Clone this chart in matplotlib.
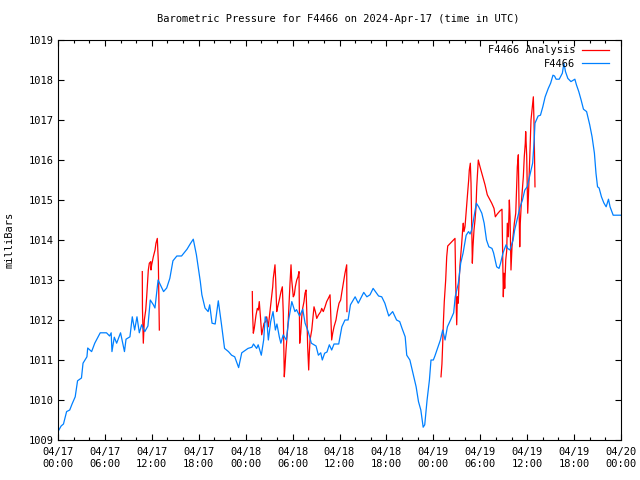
import numpy as np
import matplotlib
matplotlib.use("Agg")
import matplotlib.pyplot as plt
from matplotlib.ticker import MultipleLocator

# hours since 2024-04-17 00:00 UTC
station_hours = [
    0.0, 0.4, 0.7, 1.1, 1.5, 1.8, 2.2, 2.5, 3.0, 3.2, 3.7, 3.8, 4.3, 4.7, 5.4,
    6.2, 6.6, 6.8, 6.9, 7.2, 7.5, 8.0, 8.5, 8.7, 9.2, 9.5, 9.8, 10.1, 10.4, 10.7,
    11.1, 11.5, 11.8, 12.2, 12.4, 12.8, 13.5, 13.9, 14.3, 14.7, 15.2, 15.8, 16.5,
    16.9, 17.3, 17.7, 18.2, 18.4, 18.8, 19.2, 19.4, 19.7, 20.1, 20.5, 20.9, 21.3,
    21.8, 22.2, 22.6, 23.1, 23.5, 24.3, 24.8, 25.0, 25.4, 25.6, 26.0, 26.3, 26.5,
    26.7, 26.9, 27.2, 27.5, 27.8, 28.0, 28.3, 28.5, 28.8, 29.2, 29.5, 29.9, 30.3,
    30.5, 30.9, 31.3, 31.6, 32.0, 32.4, 33.0, 33.3, 33.6, 33.8, 34.1, 34.4, 34.7,
    35.0, 35.3, 35.9, 36.3, 36.7, 37.1, 37.4, 38.0, 38.4, 39.1, 39.5, 39.9, 40.3,
    41.0, 41.4, 41.8, 42.3, 42.8, 43.3, 43.7, 44.0, 44.4, 44.6, 45.0, 45.4, 45.8,
    46.1, 46.4, 46.7, 46.9, 47.2, 47.5, 47.7, 48.0, 48.2, 48.6, 48.9, 49.2, 49.5,
    49.8, 50.2, 50.6, 50.8, 51.2, 51.5, 51.8, 52.2, 52.5, 52.7, 52.9, 53.1, 53.5,
    53.8, 54.2, 54.5, 54.8, 55.1, 55.5, 55.7, 55.9, 56.1, 56.4, 56.6, 56.9, 57.3,
    57.5, 57.8, 58.2, 58.4, 58.8, 59.1, 59.4, 59.7, 60.0, 60.4, 60.7, 60.9, 61.0,
    61.4, 61.7, 62.0, 62.3, 62.7, 63.0, 63.3, 63.5, 63.7, 64.1, 64.5, 64.7, 64.9,
    65.2, 65.6, 66.1, 66.3, 66.6, 66.9, 67.2, 67.6, 68.0, 68.3, 68.6, 68.8, 69.0,
    69.2, 69.5, 69.8, 70.1, 70.4, 70.6, 71.0, 72.0,
]
station_mbar = [
    1009.21, 1009.35, 1009.40, 1009.71, 1009.75, 1009.90, 1010.08, 1010.48, 1010.55,
    1010.92, 1011.08, 1011.30, 1011.21, 1011.42, 1011.68, 1011.68, 1011.60, 1011.68,
    1011.21, 1011.57, 1011.42, 1011.68, 1011.21, 1011.52, 1011.58, 1012.08, 1011.75,
    1012.08, 1011.68, 1011.88, 1011.71, 1011.85, 1012.50, 1012.38, 1012.30, 1013.00,
    1012.71, 1012.80, 1013.04, 1013.48, 1013.60, 1013.60, 1013.77, 1013.90, 1014.02,
    1013.63, 1012.96, 1012.63, 1012.30, 1012.21, 1012.38, 1011.92, 1011.90, 1012.48,
    1011.90, 1011.29, 1011.21, 1011.12, 1011.08, 1010.81, 1011.18, 1011.29, 1011.32,
    1011.40, 1011.29, 1011.38, 1011.12, 1011.50, 1012.08, 1012.00, 1011.50, 1011.96,
    1012.21, 1011.75, 1011.90, 1011.58, 1011.42, 1011.63, 1011.50, 1012.00, 1012.46,
    1012.21, 1012.26, 1012.10, 1012.27, 1011.92, 1011.71, 1011.42, 1011.35, 1011.12,
    1011.18, 1011.00, 1011.17, 1011.20, 1011.38, 1011.25, 1011.40, 1011.40, 1011.83,
    1012.00, 1012.00, 1012.38, 1012.58, 1012.42, 1012.69, 1012.58, 1012.63, 1012.79,
    1012.60, 1012.58, 1012.42, 1012.10, 1012.21, 1012.00, 1011.96, 1011.79, 1011.58,
    1011.12, 1011.00, 1010.67, 1010.33, 1009.96, 1009.75, 1009.32, 1009.38, 1010.00,
    1010.50, 1011.00, 1011.00, 1011.10, 1011.33, 1011.50, 1011.75, 1011.50, 1011.83,
    1012.00, 1012.18, 1012.58, 1012.92, 1013.42, 1013.67, 1014.12, 1014.21, 1014.15,
    1014.25, 1014.46, 1014.92, 1014.83, 1014.67, 1014.42, 1014.00, 1013.83, 1013.79,
    1013.68, 1013.50, 1013.33, 1013.29, 1013.42, 1013.67, 1013.88, 1013.79, 1013.75,
    1014.00, 1014.25, 1014.58, 1014.83, 1015.00, 1015.25, 1015.33, 1015.67, 1015.92,
    1016.50, 1016.92, 1017.10, 1017.12, 1017.33, 1017.58, 1017.79, 1017.92, 1018.12,
    1018.10, 1018.02, 1018.02, 1018.17, 1018.42, 1018.21, 1018.04, 1017.96, 1018.02,
    1017.88, 1017.71, 1017.50, 1017.27, 1017.21, 1016.88, 1016.58, 1016.17, 1015.67,
    1015.33, 1015.30, 1015.08, 1014.93, 1014.83, 1015.02, 1014.83, 1014.62, 1014.62,
]

# analysis values, None marks a gap in the record
analysis_hours = [
    10.78, 10.80, 10.91, 11.04, 11.22, 11.34, 11.55, 11.68, 11.86, 11.89, 11.98,
    12.19, 12.41, 12.53, 12.70, 12.83, 12.92, 12.96,
    None,
    24.85, 24.88, 24.98, 25.10, 25.32, 25.49, 25.62, 25.74, 25.92, 26.05, 26.18,
    26.35, 26.56, 26.69, 26.89, 27.11, 27.33, 27.46, 27.53, 27.66, 27.75, 27.84,
    27.97, 28.10, 28.30, 28.52, 28.69, 28.81, 28.90, 28.94, 29.03, 29.16, 29.33,
    29.45, 29.67, 29.80, 29.89, 30.09, 30.22, 30.35, 30.53, 30.69, 30.82, 30.86,
    30.91, 31.04, 31.17, 31.29, 31.46, 31.59, 31.72, 31.81, 31.93, 32.06, 32.14,
    32.23, 32.45, 32.57, 32.74, 32.91, 33.09, 33.29, 33.60, 33.72, 33.93, 34.15,
    34.36, 34.57, 34.79, 34.88, 35.00, 35.13, 35.30, 35.55, 35.72, 35.94, 36.15,
    36.28, 36.49, 36.70, 36.83, 36.92, 36.95,
    None,
    48.98, 49.10, 49.20, 49.28, 49.40, 49.58, 49.71, 49.84, 50.77, 50.86, 50.99,
    51.07, 51.19, 51.28, 51.41, 51.63, 51.76, 51.83, 51.92, 52.05, 52.18, 52.27,
    52.40, 52.52, 52.60, 52.73, 52.82, 52.91, 52.99, 53.07, 53.20, 53.33, 53.46,
    53.55, 53.67, 53.75, 53.97, 54.39, 54.61, 54.90, 55.25, 55.47, 55.76, 55.93,
    56.18, 56.53, 56.78, 56.87, 56.95, 57.04, 57.13, 57.26, 57.39, 57.46, 57.59,
    57.72, 57.81, 57.93, 58.06, 58.23, 58.36, 58.54, 58.67, 58.74, 58.87, 58.96,
    59.05, 59.12, 59.25, 59.38, 59.51, 59.63, 59.76, 59.81, 59.94, 60.07, 60.20,
    60.36, 60.49, 60.66, 60.79, 60.88, 61.00,
]
analysis_mbar = [
    1013.21, 1012.29, 1011.42, 1012.00, 1012.25, 1012.58, 1013.25, 1013.42, 1013.46,
    1013.25, 1013.38, 1013.58, 1013.75, 1013.92, 1014.04, 1013.46, 1012.33, 1011.75,
    None,
    1012.71, 1012.20, 1011.67, 1011.79, 1012.12, 1012.29, 1012.25, 1012.46, 1012.00,
    1011.63, 1011.75, 1011.92, 1011.96, 1012.08, 1011.83, 1012.21, 1012.58, 1012.83,
    1013.04, 1013.25, 1013.38, 1013.00, 1012.21, 1012.33, 1012.50, 1012.71, 1012.83,
    1012.17, 1011.17, 1010.58, 1010.83, 1011.25, 1011.67, 1012.00, 1012.92, 1013.38,
    1013.00, 1012.58, 1012.63, 1012.83, 1013.00, 1013.08, 1013.21, 1012.50, 1011.42,
    1011.67, 1012.08, 1012.29, 1012.46, 1012.67, 1012.75, 1012.25, 1011.33, 1010.75,
    1011.17, 1011.50, 1011.75, 1012.00, 1012.33, 1012.21, 1012.04, 1012.12, 1012.21,
    1012.29, 1012.21, 1012.33, 1012.46, 1012.54, 1012.63, 1012.17, 1011.50, 1011.67,
    1011.83, 1012.00, 1012.21, 1012.42, 1012.50, 1012.67, 1012.92, 1013.17, 1013.29,
    1013.38, 1012.21,
    None,
    1010.58, 1010.90, 1011.42, 1011.92, 1012.46, 1013.00, 1013.58, 1013.85, 1014.04,
    1012.92, 1011.88, 1012.58, 1012.42, 1012.92, 1013.38, 1013.92, 1014.29, 1014.42,
    1014.21, 1014.33, 1014.67, 1014.92, 1015.21, 1015.50, 1015.75, 1015.92, 1015.42,
    1014.42, 1013.42, 1013.83, 1014.25, 1014.50, 1014.83, 1015.33, 1015.75, 1016.00,
    1015.83, 1015.54, 1015.38, 1015.13, 1015.00, 1014.92, 1014.79, 1014.58, 1014.65,
    1014.73, 1014.77, 1013.58, 1012.58, 1013.17, 1012.79, 1013.50, 1013.75, 1014.42,
    1014.08, 1015.00, 1014.58, 1013.25, 1013.83, 1014.17, 1014.42, 1014.67, 1015.46,
    1015.83, 1016.13, 1014.83, 1013.83, 1014.42, 1014.92, 1015.25, 1015.58, 1016.08,
    1016.42, 1016.71, 1016.10, 1014.67, 1015.30, 1016.25, 1017.00, 1017.33, 1017.58,
    1016.90, 1015.33,
]

tick_hours = list(range(0, 73, 6))
tick_labels = ["04/17\n00:00", "04/17\n06:00", "04/17\n12:00", "04/17\n18:00",
               "04/18\n00:00", "04/18\n06:00", "04/18\n12:00", "04/18\n18:00",
               "04/19\n00:00", "04/19\n06:00", "04/19\n12:00", "04/19\n18:00",
               "04/20\n00:00"]
pressure_ticks = list(range(1009, 1020))

plt.rcParams['font.family'] = ['DejaVu Sans Mono']
plt.rcParams['font.size'] = 7.5

fig = plt.figure(figsize=(6.4, 4.8), dpi=100)
ax = fig.add_axes([58 / 640, 40 / 480, 563 / 640, 400 / 480])

ah = np.array(analysis_hours, dtype=float)
am = np.array(analysis_mbar, dtype=float)
ax.plot(ah, am, color='#ff0000', lw=0.9, label='F4466 Analysis')
ax.plot(station_hours, station_mbar, color='#0080ff', lw=0.9, label='F4466')

ax.set_xlim(0, 72)
ax.set_ylim(1009, 1019)
ax.set_xticks(tick_hours)
ax.set_xticklabels(tick_labels, linespacing=1.25)
ax.xaxis.set_minor_locator(MultipleLocator(2))
ax.set_yticks(pressure_ticks)
ax.set_yticklabels([str(p) for p in pressure_ticks])

ax.tick_params(which='both', direction='in', top=True, right=True, width=0.8)
ax.tick_params(which='major', length=4.5)
ax.tick_params(which='minor', length=2.5)
ax.tick_params(axis='x', pad=5)
ax.tick_params(axis='y', pad=3)
for s in ax.spines.values():
    s.set_linewidth(0.8)

ax.set_ylabel('milliBars')
ax.yaxis.set_label_coords(-0.077, 0.5)
fig.text(338 / 640, 1 - 19 / 480, 'Barometric Pressure for F4466 on 2024-Apr-17 (time in UTC)',
         ha='center', va='center')

ax.legend(loc='upper right', bbox_to_anchor=(1 - 7 / 563, 1), frameon=False,
          markerfirst=False, handlelength=2.6, handletextpad=0.6, labelspacing=0.35,
          borderaxespad=0.3, borderpad=0.2)

fig.savefig('out.png', dpi=100)
